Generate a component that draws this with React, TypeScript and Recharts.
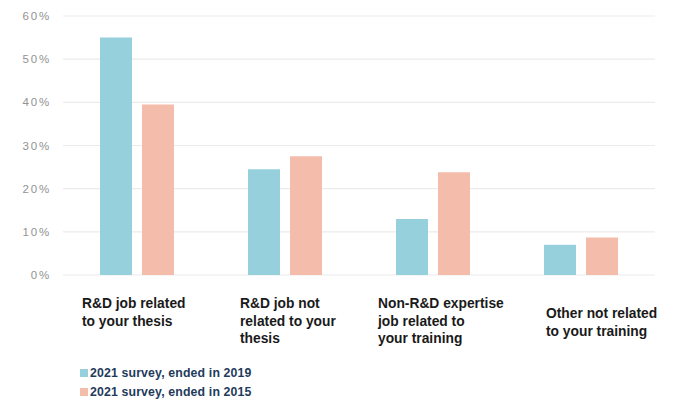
import React from "react";
import { BarChart, Bar, XAxis, YAxis, CartesianGrid, Legend } from "recharts";

const categories = [
  "R&D job related to your thesis",
  "R&D job not related to your thesis",
  "Non-R&D expertise job related to your training",
  "Other not related to your training",
];
const categoryLines = [
  ["R&D job related", "to your thesis"],
  ["R&D job not", "related to your", "thesis"],
  ["Non-R&D expertise", "job related to", "your training"],
  ["Other not related", "to your training"],
];
const ended2019 = [55, 24.5, 13, 7];
const ended2015 = [39.5, 27.5, 23.8, 8.7];
const yTicks = [0, 10, 20, 30, 40, 50, 60];
const seriesNames = ["2021 survey, ended in 2019", "2021 survey, ended in 2015"];

const COLORS = ["#95d0dc", "#f4bcab"];
const LABEL_DX = [-55, -45, -55, -35];
const LABEL_DY = [0, 0, 0, 10];

const data = categories.map((c, i) => ({
  name: c,
  idx: i,
  s2019: ended2019[i],
  s2015: ended2015[i],
}));

const CategoryTick = (props: any) => {
  const { x, y, payload } = props;
  const i = payload.index;
  const lines = categoryLines[i] || [payload.value];
  return (
    <text
      x={x + LABEL_DX[i]}
      y={y + 25 + LABEL_DY[i]}
      textAnchor="start"
      fontFamily="'Liberation Sans', Arial, sans-serif"
      fontWeight="bold"
      fontSize={13.8}
      fill="#1a1a1a"
    >
      {lines.map((l, k) => (
        <tspan key={k} x={x + LABEL_DX[i]} dy={k === 0 ? 0 : 17.5}>
          {l}
        </tspan>
      ))}
    </text>
  );
};

const LegendContent = () => (
  <div style={{ fontFamily: "'Liberation Sans', Arial, sans-serif" }}>
    {seriesNames.map((n, i) => (
      <div
        key={n}
        style={{
          display: "flex",
          alignItems: "center",
          height: 19,
          fontSize: 12.3,
          letterSpacing: 0.15,
          fontWeight: "bold",
          color: "#1f3b5c",
        }}
      >
        <span
          style={{
            width: 8,
            height: 8,
            background: COLORS[i],
            marginRight: 2,
            display: "inline-block",
          }}
        />
        {n}
      </div>
    ))}
  </div>
);

export default function App() {
  return (
    <div style={{ position: "absolute", left: 0, top: 0, width: 678, height: 401, background: "#fff" }}>
      <BarChart
        width={678}
        height={401}
        data={data}
        margin={{ top: 16, right: 23, left: 0, bottom: 0 }}
        barSize={32}
        barGap={10}
      >
        <CartesianGrid vertical={false} stroke="#ebebeb" strokeWidth={1.2} />
        <XAxis
          dataKey="name"
          axisLine={false}
          tickLine={false}
          height={126}
          interval={0}
          tick={<CategoryTick />}
        />
        <YAxis
          width={63}
          domain={[0, 60]}
          ticks={yTicks}
          axisLine={false}
          tickLine={false}
          tickMargin={6}
          tickFormatter={(v: number) => `${v}%`}
          tick={{ fill: "#929292", fontSize: 11.5, fontFamily: "'Liberation Sans', Arial, sans-serif", letterSpacing: 1.8 }}
        />
        <Legend
          layout="vertical"
          align="center"
          verticalAlign="middle"
          content={<LegendContent />}
          wrapperStyle={{ position: "absolute", left: 80, top: 363, width: 300 }}
        />
        <Bar dataKey="s2019" name={seriesNames[0]} fill={COLORS[0]} isAnimationActive={false} />
        <Bar dataKey="s2015" name={seriesNames[1]} fill={COLORS[1]} isAnimationActive={false} />
      </BarChart>
    </div>
  );
}
